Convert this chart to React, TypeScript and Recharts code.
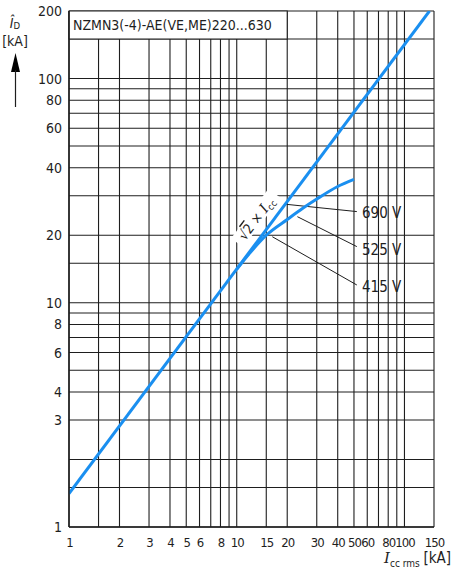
import { LineChart, Line, XAxis, YAxis, CartesianGrid, ReferenceArea, ReferenceLine } from 'recharts'

const FONT = "'DejaVu Sans Condensed', 'Liberation Sans Narrow', 'Noto Sans', sans-serif"
const BLUE = '#1a8ff0'
const INK = '#1e1e1e'

// gridlines and labelled ticks
const xGrid = [1, 1.5, 2, 3, 4, 5, 6, 7, 8, 9, 10, 15, 20, 30, 40, 50, 60, 70, 80, 90, 100, 150]
const xLabels = [1, 2, 3, 4, 5, 6, 8, 10, 15, 20, 30, 40, 50, 60, 80, 100, 150]
const yGrid = [1, 1.5, 2, 3, 4, 5, 6, 7, 8, 9, 10, 15, 20, 30, 40, 50, 60, 70, 80, 90, 100, 150, 200]
const yLabels = [1, 3, 4, 6, 8, 10, 20, 40, 60, 80, 100, 200]

// sqrt(2) x Icc line
const diagX = [1, 141]
const diagY = [1.41, 200]

// let-through curve (525 V / 415 V)
const curveX = [10, 12, 15, 20, 25, 30, 40, 50]
const curveY = [14.1, 16.7, 20, 23.5, 26.5, 29, 33, 35.5]

const diagonal = diagX.map((x, i) => ({ x, y: diagY[i] }))
const curve = curveX.map((x, i) => ({ x, y: curveY[i] }))

// leader lines: [from point on curve, to label]
const leaders = [
  { label: '690 V', from: { x: 19.5, y: 27.5 }, to: { x: 52, y: 25.5 } },
  { label: '525 V', from: { x: 23, y: 24.2 }, to: { x: 52, y: 17.8 } },
  { label: '415 V', from: { x: 16.3, y: 19.7 }, to: { x: 52, y: 12.0 } },
]

function XTick({ x, y, payload }: any) {
  if (!xLabels.includes(payload.value)) return null
  return (
    <text x={x + 0.5} y={y + 12} textAnchor="middle" fontSize={13} letterSpacing={-1} fontFamily={FONT} fill={INK}>
      {payload.value}
    </text>
  )
}

function YTick({ x, y, payload }: any) {
  if (!yLabels.includes(payload.value)) return null
  return (
    <text x={x + 1} y={y + 5} textAnchor="end" fontSize={14} fontFamily={FONT} fill={INK}>
      {payload.value}
    </text>
  )
}

export default function App() {
  return (
    <div style={{ position: 'absolute', left: 0, top: 0, width: 455, height: 580, background: '#fff' }}>
      <LineChart width={455} height={580} margin={{ top: 11, right: 21, bottom: 0, left: 0 }}>
        <CartesianGrid stroke={INK} strokeWidth={1.1} />
        <XAxis
          type="number"
          dataKey="x"
          scale="log"
          domain={[1, 150]}
          ticks={xGrid}
          interval={0}
          allowDataOverflow
          height={53}
          tickLine={false}
          axisLine={{ stroke: INK, strokeWidth: 1.5 }}
          tick={<XTick />}
        />
        <YAxis
          type="number"
          dataKey="y"
          scale="log"
          domain={[1, 200]}
          ticks={yGrid}
          interval={0}
          allowDataOverflow
          width={69}
          tickLine={false}
          axisLine={{ stroke: INK, strokeWidth: 1.5 }}
          tick={<YTick />}
        />
        <ReferenceArea x1={1} x2={20} y1={150} y2={200} fill="#fff" fillOpacity={1} stroke={INK} strokeWidth={1.1} />
        {leaders.map((l) => (
          <ReferenceLine key={l.label} segment={[l.from, l.to]} stroke={INK} strokeWidth={1} />
        ))}
        <Line data={diagonal} dataKey="y" type="linear" stroke={BLUE} strokeWidth={3} dot={false} isAnimationActive={false} />
        <Line data={curve} dataKey="y" type="monotone" stroke={BLUE} strokeWidth={3} dot={false} isAnimationActive={false} />
      </LineChart>
      <svg width={455} height={580} style={{ position: 'absolute', left: 0, top: 0, pointerEvents: 'none' }} fontFamily={FONT} fill={INK}>
        <text x={73} y={30} fontSize={14}>NZMN3(-4)-AE(VE,ME)220...630</text>
        {/* y axis title and arrow */}
        <text x={15} y={28} fontSize={14} fontStyle="italic" textAnchor="middle">Î<tspan fontSize={9.5} fontStyle="normal" dy={1}>D</tspan></text>
        <text x={15} y={46} fontSize={14} textAnchor="middle">[kA]</text>
        <polygon points="15.5,53 11,72 20,72" fill="#000" />
        <line x1={15.5} y1={70} x2={15.5} y2={107} stroke={INK} strokeWidth={1.2} />
        {/* x axis title */}
        <text x={384} y={563} fontSize={15}>
          <tspan fontStyle="italic" fontFamily="'DejaVu Serif', serif">I</tspan>
          <tspan fontSize={10} dy={4}>cc rms</tspan>
        </text>
        <text x={451} y={563} fontSize={15} textAnchor="end">[kA]</text>
        {/* voltage labels */}
        <text x={362} y={218} fontSize={15}>690 V</text>
        <text x={362} y={255} fontSize={15}>525 V</text>
        <text x={362} y={292} fontSize={15}>415 V</text>
        {/* sqrt2 x Icc label */}
        <g transform="translate(257,219) rotate(-53)">
          <rect x={-31} y={-9} width={62} height={15} fill="#fff" />
          <text x={0} y={4} fontSize={14} textAnchor="middle">
            √<tspan textDecoration="overline">2</tspan> × <tspan fontStyle="italic" fontFamily="'DejaVu Serif', serif">I</tspan>
            <tspan fontSize={9.5} dy={3}>cc</tspan>
          </text>
        </g>
      </svg>
    </div>
  )
}
